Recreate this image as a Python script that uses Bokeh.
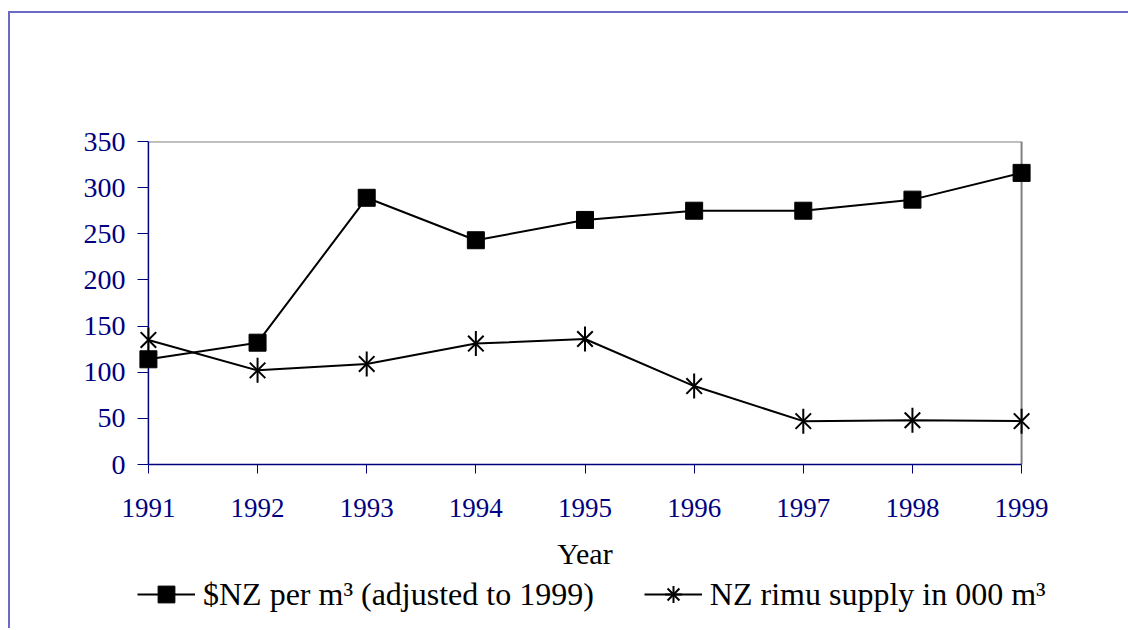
import math
from bokeh.plotting import figure
from bokeh.layouts import column
from bokeh.models import Range1d, FixedTicker, Legend, LegendItem
from bokeh.embed import file_html
from bokeh.resources import INLINE

years = [1991, 1992, 1993, 1994, 1995, 1996, 1997, 1998, 1999]
price = [114, 132, 289, 243, 265, 275, 275, 287, 316]
supply = [135, 102, 109, 131, 136, 85, 47, 48, 47]
y_ticks = [0, 50, 100, 150, 200, 250, 300, 350]
price_label = "$NZ per m³ (adjusted to 1999)"
supply_label = "NZ rimu supply in 000 m³"
x_title = "Year"

NAVY = "#000080"
FONT = "Liberation Serif"

p = figure(frame_width=895, frame_height=323,
           x_range=Range1d(1990.9, 1999.1), y_range=Range1d(0, 350),
           output_backend="svg", toolbar_location=None,
           min_border_left=127, min_border_right=96,
           min_border_top=128, min_border_bottom=108)
p.outline_line_color = None
p.grid.visible = False
p.background_fill_color = "white"
p.border_fill_color = "white"

# plot box: gray top and right, navy left axis line at the first year
p.line(x=[years[0], years[-1], years[-1]], y=[y_ticks[-1], y_ticks[-1], y_ticks[0]],
       line_color="#808080", line_width=2)
p.line(x=[years[0], years[0]], y=[y_ticks[0], y_ticks[-1]], line_color=NAVY, line_width=1.5)

xa = p.xaxis[0]
xa.ticker = FixedTicker(ticks=years)
xa.bounds = (years[0], years[-1])
xa.axis_line_color = NAVY
xa.axis_line_width = 1.5
xa.major_tick_line_color = NAVY
xa.major_tick_out = 9
xa.major_tick_in = 0
xa.minor_tick_line_color = None
xa.major_label_text_font = FONT
xa.major_label_text_font_size = "27px"
xa.major_label_text_color = NAVY
xa.major_label_standoff = 25
xa.axis_label = x_title
xa.axis_label_text_font = FONT
xa.axis_label_text_font_size = "30px"
xa.axis_label_text_font_style = "normal"
xa.axis_label_text_color = "black"
xa.axis_label_standoff = 17

ya = p.yaxis[0]
ya.ticker = FixedTicker(ticks=y_ticks)
ya.axis_line_color = None
ya.major_tick_line_color = NAVY
ya.major_tick_out = 0
ya.major_tick_in = 11
ya.minor_tick_line_color = None
ya.major_label_text_font = FONT
ya.major_label_text_font_size = "28px"
ya.major_label_text_color = NAVY
ya.major_label_standoff = 12

p.line(years, price, line_color="black", line_width=2)
p.scatter(years, price, marker="square", size=17, fill_color="black", line_color="black")

p.line(years, supply, line_color="black", line_width=2)
p.scatter(years, supply, marker="x", size=22, line_color="black", line_width=2)
p.scatter(years, supply, marker="dash", angle=math.pi / 2, size=25,
          line_color="black", line_width=2)

# legend strip: same series, drawn outside its visible range, only the legend shows
p2 = figure(frame_width=1118, frame_height=56,
            x_range=Range1d(0, 1), y_range=Range1d(0, 1),
            output_backend="svg", toolbar_location=None,
            x_axis_location=None, y_axis_location=None,
            min_border_left=0, min_border_right=0, min_border_top=0, min_border_bottom=0)
p2.outline_line_color = None
p2.grid.visible = False
p2.border_fill_color = "white"
p2.background_fill_color = "white"

q1 = p2.line(years, price, line_color="black", line_width=2)
q2 = p2.scatter(years, price, marker="square", fill_color="black", line_color="black")
q3 = p2.line(years, supply, line_color="black", line_width=2)
q4 = p2.scatter(years, supply, marker="x", line_color="black", line_width=2)
q5 = p2.scatter(years, supply, marker="cross", line_color="black", line_width=2)

legend = Legend(items=[LegendItem(label=price_label, renderers=[q1, q2]),
                       LegendItem(label=supply_label, renderers=[q3, q4, q5])],
                location=(127, 13), orientation="horizontal",
                glyph_width=58, glyph_height=42, label_height=42,
                label_standoff=8, spacing=50, padding=0, margin=0,
                border_line_color=None, background_fill_alpha=0,
                label_text_font=FONT, label_text_font_size="32px",
                label_text_color="black")
p2.add_layout(legend)

layout = column(p, p2, spacing=0, margin=(11, 0, 0, 8))
layout.styles = {"border-top": "2px solid #6b6bc6", "border-left": "2px solid #6b6bc6"}

open("out.html", "w").write(file_html(layout, INLINE))
